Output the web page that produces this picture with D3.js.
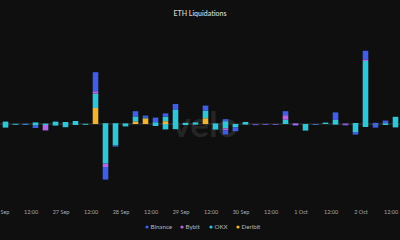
<!DOCTYPE html>
<html>
<head>
<meta charset="utf-8">
<script src="https://cdn.jsdelivr.net/npm/d3@7"></script>
<style>
  html, body { margin: 0; padding: 0; background: #0f0f0f; }
  svg { display: block; }
</style>
</head>
<body>
<div id="chart"></div>
<script>
// 1: DATA (USD millions per 4h bin, starting 26 Sep 00:00 UTC)
const exchanges = ["Binance", "Bybit", "OKX", "Deribit"];
const stackOrder = ["Deribit", "OKX", "Bybit", "Binance"]; // baseline outward

const longBinance = [0,0,0,0,0,0,0,0,0,9.5, 0,0,0,2.6,1.0,2.3,1.7,3.0,0,0, 2.6,0,1.0,0,0,0,0,0,2.0,0, 0,0,0,3.8,0,0,4.3,0.6,1.3,0];
const longBybit   = [0,0,0,0,0,0,0,0,0,1.2, 0,0,0,0,0,0,0,0,0,0, 0,0,0,0,0,0,0,0,2.3,0.3, 0,0,0,0,0.2,0,0.8,0,0,0];
const longOKX     = [1.2,0.1,0.1,0.8,0.2,1.2,1.0,1.5,0.1,7.2, 0.4,0.4,0.3,2.5,0.4,0.9,2.2,7.0,0.6,0.8, 3.7,0.3,1.4,0,1.0,0,0,0,2.1,0, 0,0,0.7,2.0,0,0.5,31.5,0,0.4,3.6];
const longDeribit = [0,0,0,0,0,0,0,0,0,8.0, 0,0,0,1.3,2.8,0,1.4,0,0,0, 2.9,0,0,0,0,0,0,0,0,0, 0,0,0,0,0,0,0,0,0,0];

const shortBinance = [0,0,0.1,1.2,0,0,0,0,0,0, 6.3,0.5,0,0,0,0,0,0,0,0, 0,0,2.0,2.0,0,0.2,0.2,0.2,0,0.3, 0,0.1,0,0,0.2,1.3,0,1.5,0,0];
const shortBybit   = [0,0,0,0,2.7,0,0,0,0,0, 1.7,0,0,0,0,0,0,0,0,0, 0,0,1.0,0,0,0.3,0.2,0.2,0,0.5, 0,0,0,0,0.4,0,0,0,0,0];
const shortOKX     = [1.8,0.2,0.1,0.8,0.5,0.8,1.6,0.5,0.2,0, 19.8,10.8,1.2,0,0,1.0,2.7,2.6,0.5,0.3, 0,2.8,2.2,1.6,0.2,0,0,0,0,0, 3.3,0.1,0,0.2,0,4.0,1.5,0.3,0.5,1.7];
const shortDeribit = [0,0,0,0,0,0,0,0,0,0, 0,0,0,0,0,0,0,0,0,0, 0,0,0,0,0,0,0,0,0,0, 0,0,0,0,0,0,0,0,0,0];

const xTicksEvery = 12; // hours
const colors = { Binance: "#3f5fe6", Bybit: "#b567e8", OKX: "#2fc6d8", Deribit: "#f2b330" };

// 2: SIZES
const width = 400, height = 240;
const plotTop = 50, baseY = 124, plotBottom = 180;

const svg = d3.select("#chart").append("svg")
    .attr("width", width)
    .attr("height", height)
    .style("background", "#0f0f0f");

// 3: SCALES
const start = new Date(Date.UTC(2024, 8, 26, 0, 0));
const hour = 3600 * 1000;
const binStarts = longOKX.map((d, i) => new Date(start.getTime() + i * 4 * hour));

const x = d3.scaleUtc()
    .domain([new Date(start.getTime() - 0.2 * hour), new Date(start.getTime() + 159.8 * hour)])
    .range([0, width]);

const y = d3.scaleLinear()
    .domain([-28, 37])
    .range([plotBottom, plotTop]);

// rows for stacking
const rows = binStarts.map((t, i) => ({
    t,
    long: { Binance: longBinance[i], Bybit: longBybit[i], OKX: longOKX[i], Deribit: longDeribit[i] },
    short: { Binance: -shortBinance[i], Bybit: -shortBybit[i], OKX: -shortOKX[i], Deribit: -shortDeribit[i] }
}));

const longStack = d3.stack().keys(stackOrder).value((d, k) => d.long[k])(rows);
const shortStack = d3.stack().keys(stackOrder).value((d, k) => d.short[k])
    .offset(d3.stackOffsetDiverging)(rows);

// 4: WATERMARK
svg.append("text")
    .attr("x", 205)
    .attr("y", 137)
    .attr("text-anchor", "middle")
    .style("font-family", "Lato, sans-serif")
    .style("font-weight", "700")
    .style("font-size", "35px")
    .style("fill", "#ffffff")
    .style("fill-opacity", 0.1)
    .text("velo");

// baseline
svg.append("line")
    .attr("x1", 0).attr("x2", width)
    .attr("y1", y(0)).attr("y2", y(0))
    .style("stroke", "#44444c")
    .style("stroke-width", 0.8);

// 5: BARS
const barW = 5.6;
function drawStack(stack) {
    svg.append("g").selectAll("g")
        .data(stack)
        .join("g")
        .style("fill", s => colors[s.key])
        .selectAll("rect")
        .data(s => s.filter(d => d[1] !== d[0]))
        .join("rect")
        .attr("x", d => x(new Date(d.data.t.getTime() + 2 * hour)) - barW / 2)
        .attr("width", barW)
        .attr("y", d => y(Math.max(d[0], d[1])))
        .attr("height", d => Math.max(0.6, Math.abs(y(d[0]) - y(d[1]))));
}
drawStack(longStack);
drawStack(shortStack);

// 6: X AXIS
const tickVals = d3.utcHour.every(xTicksEvery).range(start, new Date(start.getTime() + 157 * hour));
const fmt = d => d.getUTCHours() === 0 ? d3.utcFormat("%-d %b")(d) : d3.utcFormat("%H:%M")(d);

const xAxis = svg.append("g")
    .attr("transform", "translate(0,210)")
    .call(d3.axisBottom(x).tickValues(tickVals).tickFormat(fmt).tickSize(0).tickPadding(0));
xAxis.select(".domain").remove();
xAxis.selectAll("text")
    .style("font-family", "Lato, sans-serif")
    .style("font-size", "5.5px")
    .style("fill", "#a8a8a8");

// 7: TITLE
svg.append("text")
    .attr("x", width / 2)
    .attr("y", 16)
    .attr("text-anchor", "middle")
    .style("font-family", "Lato, sans-serif")
    .style("font-weight", "600")
    .style("font-size", "7px")
    .style("fill", "#d0d0d0")
    .text("ETH Liquidations");

// 8: LEGEND
const legendX = [147, 182, 211, 238];
const legend = svg.selectAll(".legend")
    .data(exchanges)
    .join("g")
    .attr("class", "legend")
    .attr("transform", (d, i) => `translate(${legendX[i]},227)`);
legend.append("circle")
    .attr("r", 1.6)
    .style("fill", d => colors[d]);
legend.append("text")
    .attr("x", 3.5)
    .attr("y", 0)
    .style("dominant-baseline", "middle")
    .style("font-family", "Lato, sans-serif")
    .style("font-size", "6.2px")
    .style("fill", "#b8b8b8")
    .text(d => d);
</script>
</body>
</html>
